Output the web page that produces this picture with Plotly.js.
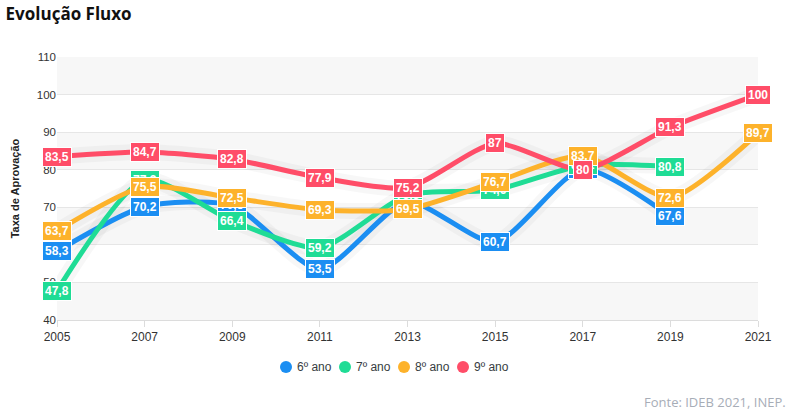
<!DOCTYPE html>
<html><head><meta charset="utf-8">
<script src="https://cdn.plot.ly/plotly-3.0.1.min.js"></script>
<style>body{margin:0;background:#fff}#c{width:796px;height:415px}</style>
</head><body><div id="c"></div>
<script>
const years = [2005, 2007, 2009, 2011, 2013, 2015, 2017, 2019, 2021];
const seriesNames = ['6º ano', '7º ano', '8º ano', '9º ano'];
const ano6 = [58.3, 70.2, 70.5, 53.5, 71.5, 60.7, 80.2, 67.6, null];
const ano7 = [47.8, 77.3, 66.4, 59.2, 73.3, 74.6, 81.2, 80.8, null];
const ano8 = [63.7, 75.5, 72.5, 69.3, 69.5, 76.7, 83.7, 72.6, 89.7];
const ano9 = [83.5, 84.7, 82.8, 77.9, 75.2, 87, 80, 91.3, 100];
const colors = ['#1b8ef2', '#1fdc95', '#fdb22b', '#ff4d68'];
const allSeries = [ano6, ano7, ano8, ano9];

const traces = [];
allSeries.forEach((vals, i) => {
  traces.push({x: years, y: vals, type: 'scatter', mode: 'lines', showlegend: false, hoverinfo: 'skip',
    line: {shape: 'spline', smoothing: 0.65, width: 16, color: 'rgba(0,0,0,0.03)'}, connectgaps: false});
});
allSeries.forEach((vals, i) => {
  traces.push({x: years, y: vals, type: 'scatter', mode: 'lines', name: seriesNames[i], showlegend: false,
    line: {shape: 'spline', smoothing: 0.65, width: 5, color: colors[i]}, connectgaps: false});
});
const annotations = [];
allSeries.forEach((vals, i) => {
  vals.forEach((v, j) => {
    if (v === null) return;
    annotations.push({x: years[j], y: v, xref: 'x', yref: 'y', showarrow: false,
      text: String(v).replace('.', ','), bgcolor: colors[i], bordercolor: '#ffffff', borderwidth: 1, borderpad: 2,
      font: {family: 'Arial, Liberation Sans, sans-serif', size: 12, color: '#ffffff', weight: 'bold'}});
  });
});
annotations.push({xref: 'paper', yref: 'paper', x: 1.043, y: -0.313, xanchor: 'right', yanchor: 'middle', showarrow: false,
  text: 'Fonte: IDEB 2021, INEP.', font: {family: 'Open Sans, sans-serif', size: 13, color: '#a7adb7'}});

const shapes = [];
[[40,50],[60,70],[80,90],[100,110]].forEach(b => {
  shapes.push({type: 'rect', xref: 'paper', yref: 'y', x0: 0, x1: 1, y0: b[0], y1: b[1], fillcolor: '#f7f7f7', line: {width: 0}, layer: 'below'});
});
// custom legend (circle + label)
const plotW = 701, plotH = 263;
const legStartPx = 229, legStepPx = 59, legYPaper = -47 / plotH;
seriesNames.forEach((n, i) => {
  const cx = (legStartPx + i * legStepPx) / plotW;
  shapes.push({type: 'circle', xref: 'paper', yref: 'paper', xsizemode: 'pixel', ysizemode: 'pixel',
    xanchor: cx, yanchor: legYPaper, x0: -6, x1: 6, y0: -6, y1: 6, fillcolor: colors[i], line: {width: 0}});
  annotations.push({xref: 'paper', yref: 'paper', x: cx + 9 / plotW, y: legYPaper, xanchor: 'left', yanchor: 'middle',
    showarrow: false, text: n, font: {family: 'Arial, Liberation Sans, sans-serif', size: 12, color: '#373d3f'}});
});

const layout = {
  width: 796, height: 415,
  margin: {l: 57, r: 38, t: 57, b: 95},
  paper_bgcolor: '#ffffff', plot_bgcolor: '#ffffff',
  title: {text: '<b>Evolução Fluxo</b>', x: 0.007, xanchor: 'left', y: 0.965, yanchor: 'middle',
    font: {family: 'Open Sans, sans-serif', size: 17, color: '#111'}},
  xaxis: {range: [2005, 2021], tickvals: years, ticktext: years.map(String), showgrid: false, zeroline: false,
    showline: true, linecolor: '#dcdcdc', ticks: 'outside', ticklen: 6, tickcolor: '#dcdcdc',
    tickfont: {family: 'Arial, Liberation Sans, sans-serif', size: 12, color: '#333'}},
  yaxis: {range: [40, 110], dtick: 10, showgrid: true, gridcolor: '#e6e6e6', zeroline: false,
    tickfont: {family: 'Arial, Liberation Sans, sans-serif', size: 11.5, color: '#333'},
    title: {text: '<b>Taxa de Aprovação</b>', standoff: 14, font: {family: 'Arial, Liberation Sans, sans-serif', size: 11, color: '#222'}}},
  showlegend: false,
  annotations: annotations,
  shapes: shapes
};
Plotly.newPlot('c', traces, layout, {displayModeBar: false, staticPlot: true});
</script></body></html>
